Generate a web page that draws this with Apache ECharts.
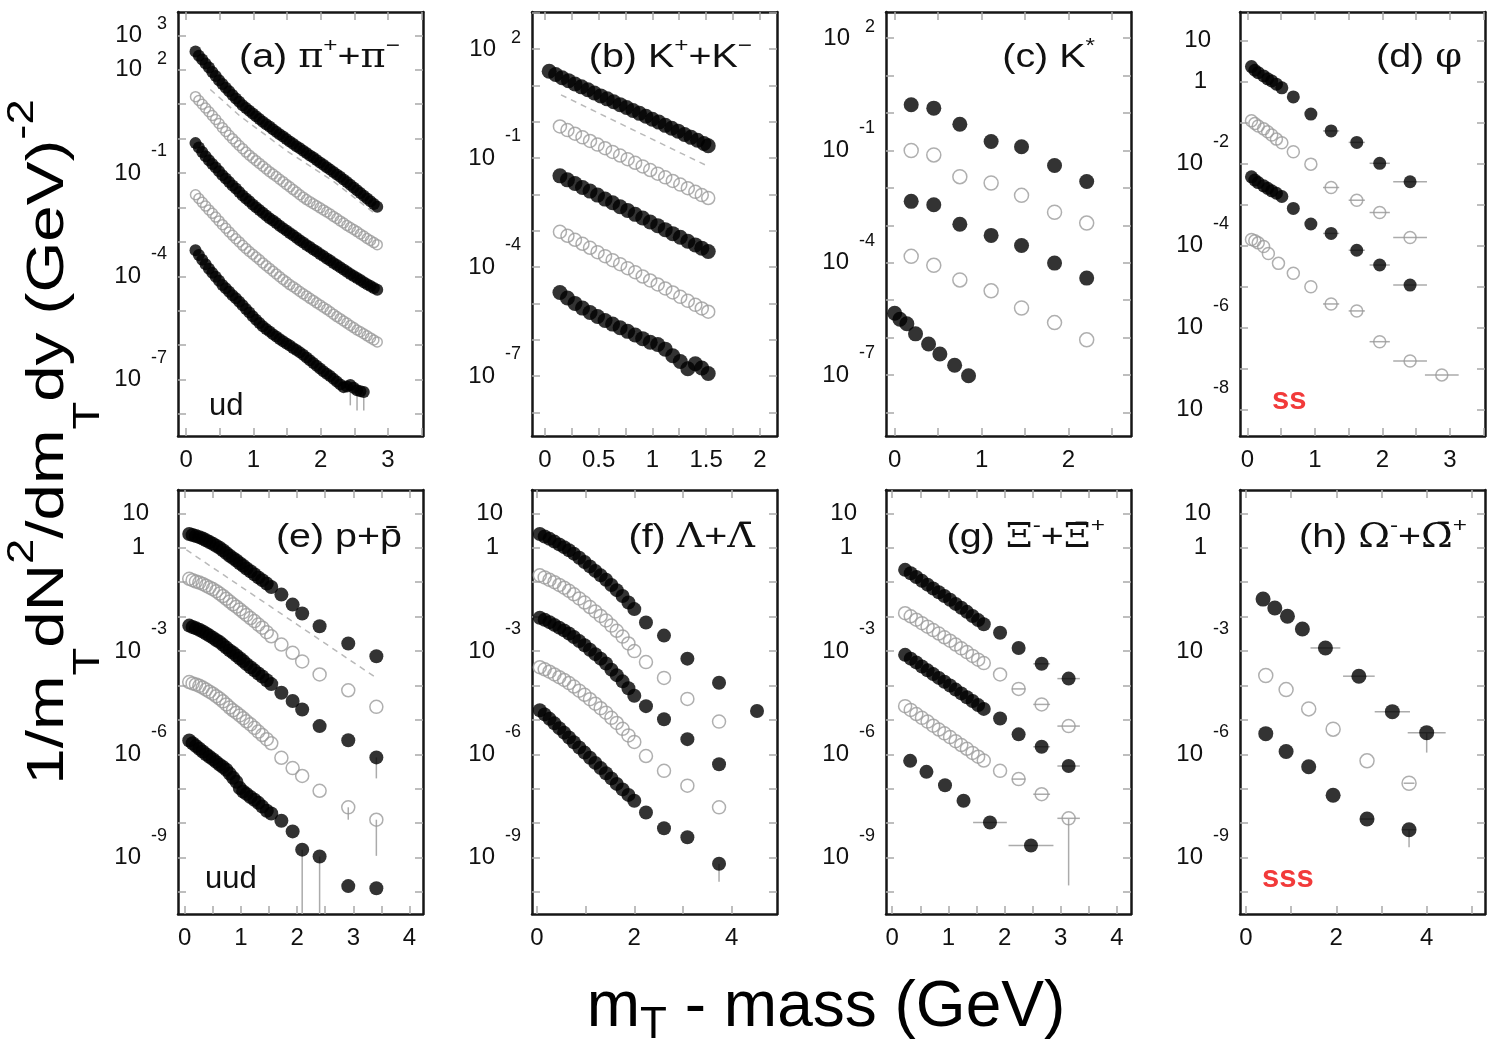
<!DOCTYPE html>
<html>
<head>
<meta charset="utf-8">
<script src="https://cdn.jsdelivr.net/npm/echarts@6/dist/echarts.min.js"></script>
<style>
  html, body { margin: 0; padding: 0; background: #ffffff; }
  #chart { width: 1491px; height: 1045px; }
</style>
</head>
<body>
<div id="chart"></div>
<script>
// Transverse-mass spectra, eight particle species, several centralities each.
// Every y value below is log10 of 1/mT d2N/dmT dy in (GeV)^-2; the y axes are
// value axes over that exponent and label their ticks as powers of ten.

const FONT = '"Liberation Sans", Arial, Helvetica, sans-serif';
const SERIF = '"DejaVu Serif", "Liberation Serif", "Times New Roman", serif';

// ---------- (a) pi+ + pi- ----------
const aX  = [0.14,0.19,0.24,0.29,0.34,0.39,0.44,0.49,0.54,0.59,0.64,0.69,0.74,0.79,0.84,0.89,0.94,0.99,1.04,1.09,1.14,1.19,1.24,1.29,1.34,1.39,1.44,1.49,1.54,1.59,1.64,1.69,1.74,1.79,1.84,1.89,1.94,1.99,2.04,2.09,2.14,2.19,2.24,2.29,2.34,2.39,2.44,2.49,2.54,2.59,2.64,2.69,2.74,2.79,2.84];
const a1  = [2.53,2.41,2.30,2.18,2.07,1.94,1.82,1.70,1.59,1.48,1.38,1.27,1.17,1.07,0.97,0.89,0.81,0.73,0.65,0.57,0.49,0.42,0.35,0.27,0.20,0.13,0.06,-0.01,-0.08,-0.15,-0.22,-0.28,-0.35,-0.42,-0.49,-0.55,-0.62,-0.69,-0.76,-0.83,-0.90,-0.97,-1.04,-1.11,-1.19,-1.26,-1.34,-1.42,-1.50,-1.58,-1.66,-1.74,-1.82,-1.90,-1.98];
const a2  = [1.22,1.11,1.00,0.89,0.78,0.67,0.56,0.44,0.32,0.21,0.10,0.00,-0.10,-0.20,-0.29,-0.39,-0.48,-0.56,-0.64,-0.72,-0.80,-0.88,-0.96,-1.03,-1.10,-1.18,-1.25,-1.33,-1.40,-1.48,-1.55,-1.63,-1.70,-1.77,-1.83,-1.89,-1.95,-2.01,-2.07,-2.13,-2.19,-2.26,-2.32,-2.39,-2.45,-2.52,-2.58,-2.64,-2.70,-2.77,-2.83,-2.90,-2.96,-3.02,-3.08];
const a3  = [-0.13,-0.26,-0.39,-0.51,-0.63,-0.74,-0.84,-0.95,-1.06,-1.16,-1.26,-1.36,-1.45,-1.55,-1.65,-1.74,-1.82,-1.91,-1.99,-2.07,-2.15,-2.23,-2.31,-2.38,-2.45,-2.53,-2.60,-2.67,-2.74,-2.81,-2.88,-2.95,-3.02,-3.09,-3.15,-3.22,-3.28,-3.35,-3.41,-3.48,-3.54,-3.61,-3.67,-3.74,-3.80,-3.87,-3.93,-3.99,-4.05,-4.11,-4.17,-4.23,-4.28,-4.34,-4.39];
const a4  = [-1.63,-1.74,-1.85,-1.96,-2.07,-2.17,-2.28,-2.39,-2.50,-2.60,-2.71,-2.81,-2.91,-3.00,-3.10,-3.19,-3.28,-3.36,-3.44,-3.52,-3.61,-3.69,-3.77,-3.85,-3.93,-4.01,-4.09,-4.16,-4.24,-4.30,-4.37,-4.44,-4.51,-4.57,-4.64,-4.70,-4.77,-4.83,-4.90,-4.96,-5.03,-5.10,-5.17,-5.23,-5.30,-5.36,-5.43,-5.49,-5.56,-5.61,-5.67,-5.73,-5.79,-5.85,-5.91];
const a5X = [0.14,0.19,0.24,0.29,0.34,0.39,0.44,0.49,0.54,0.59,0.64,0.69,0.74,0.79,0.84,0.89,0.94,0.99,1.04,1.09,1.14,1.19,1.24,1.29,1.34,1.39,1.44,1.49,1.54,1.59,1.64,1.69,1.74,1.79,1.84,1.89,1.94,1.99,2.04,2.09,2.14,2.19,2.24,2.29,2.34,2.39,2.44,2.49,2.54,2.59,2.64];
const a5  = [-3.24,-3.38,-3.52,-3.65,-3.78,-3.90,-4.01,-4.13,-4.25,-4.35,-4.45,-4.55,-4.64,-4.74,-4.84,-4.95,-5.05,-5.16,-5.26,-5.36,-5.45,-5.53,-5.60,-5.68,-5.75,-5.82,-5.89,-5.95,-6.01,-6.08,-6.14,-6.21,-6.28,-6.36,-6.44,-6.52,-6.60,-6.68,-6.76,-6.83,-6.90,-6.98,-7.06,-7.14,-7.22,-7.20,-7.16,-7.24,-7.31,-7.34,-7.36];
const aFitX = [0.36,0.80,1.50,2.19,2.78];
const aFit  = [1.43,0.66,-0.36,-1.24,-2.14];
// error bars: [x, y, x half-width, lower y end]
const aErr = [[2.44,-7.16,0,-7.75],[2.54,-7.31,0,-7.90],[2.64,-7.36,0,-7.90]];

// ---------- (b) K+ + K- ----------
const b1X = [0.04,0.10,0.16,0.22,0.28,0.34,0.40,0.46,0.52,0.58,0.64,0.70,0.76,0.82,0.88,0.94,1.00,1.06,1.12,1.18,1.24,1.30,1.36,1.42,1.48,1.52];
const b1  = [1.39,1.30,1.21,1.13,1.04,0.96,0.88,0.79,0.71,0.63,0.55,0.47,0.39,0.31,0.23,0.15,0.07,-0.01,-0.10,-0.18,-0.26,-0.35,-0.43,-0.51,-0.60,-0.66];
const bX  = [0.14,0.21,0.28,0.35,0.42,0.49,0.56,0.63,0.70,0.77,0.84,0.91,0.98,1.05,1.12,1.19,1.26,1.33,1.40,1.46,1.52];
const b2  = [-0.13,-0.23,-0.33,-0.43,-0.53,-0.63,-0.73,-0.83,-0.93,-1.03,-1.13,-1.23,-1.33,-1.43,-1.53,-1.63,-1.73,-1.83,-1.93,-2.02,-2.10];
const b3  = [-1.49,-1.60,-1.70,-1.81,-1.91,-2.02,-2.13,-2.23,-2.34,-2.44,-2.55,-2.65,-2.76,-2.86,-2.97,-3.08,-3.18,-3.29,-3.39,-3.48,-3.57];
const b4  = [-3.03,-3.14,-3.25,-3.36,-3.47,-3.59,-3.70,-3.81,-3.92,-4.03,-4.14,-4.26,-4.37,-4.48,-4.59,-4.70,-4.82,-4.93,-5.04,-5.14,-5.23];
const b5  = [-4.70,-4.85,-5.00,-5.13,-5.25,-5.36,-5.47,-5.57,-5.67,-5.77,-5.87,-5.97,-6.07,-6.13,-6.26,-6.44,-6.60,-6.80,-6.66,-6.78,-6.93];
const bFitX = [0.15,1.52];
const bFit  = [0.74,-1.23];
const bErr = [];

// ---------- (c) K* ----------
const cX  = [0.19,0.45,0.75,1.11,1.46,1.84,2.21];
const c1  = [0.22,0.13,-0.30,-0.76,-0.90,-1.40,-1.83];
const c2  = [-1.00,-1.12,-1.70,-1.87,-2.20,-2.65,-2.94];
const c3  = [-2.36,-2.45,-2.97,-3.27,-3.54,-4.01,-4.41];
const c4  = [-3.83,-4.07,-4.46,-4.75,-5.21,-5.60,-6.06];
const c5X = [0.00,0.06,0.14,0.24,0.39,0.52,0.69,0.85];
const c5  = [-5.35,-5.51,-5.63,-5.90,-6.17,-6.44,-6.74,-7.02];
const cErr = [];

// ---------- (d) phi ----------
const dX  = [0.06,0.11,0.16,0.24,0.30,0.36,0.43,0.51,0.68,0.94,1.24,1.62,1.96,2.41];
const d1  = [0.37,0.28,0.22,0.14,0.07,0.02,-0.06,-0.15,-0.37,-0.79,-1.20,-1.48,-1.99,-2.44];
const d2  = [-0.95,-1.02,-1.08,-1.15,-1.22,-1.30,-1.40,-1.49,-1.71,-2.01,-2.58,-2.89,-3.19,-3.80];
const d3  = [-2.32,-2.40,-2.46,-2.54,-2.60,-2.66,-2.72,-2.80,-3.09,-3.47,-3.70,-4.11,-4.47,-4.96];
const d4X = [0.06,0.11,0.16,0.24,0.31,0.46,0.68,0.94,1.24,1.62,1.96,2.41,2.88];
const d4  = [-3.85,-3.88,-3.93,-4.02,-4.19,-4.43,-4.67,-5.00,-5.42,-5.59,-6.34,-6.81,-7.15];
const dErr = [
  [1.24,-1.20,0.12,null],[1.62,-1.48,0.12,null],[1.96,-1.99,0.15,null],[2.41,-2.44,0.25,null],
  [1.24,-2.58,0.12,null],[1.62,-2.89,0.12,null],[1.96,-3.19,0.15,null],[2.41,-3.80,0.25,null],
  [1.24,-3.70,0.12,null],[1.62,-4.11,0.12,null],[1.96,-4.47,0.15,null],[2.41,-4.96,0.25,null],
  [1.24,-5.42,0.12,null],[1.62,-5.59,0.12,null],[1.96,-6.34,0.15,null],[2.41,-6.81,0.25,null],[2.88,-7.15,0.25,null]
];

// ---------- (e) p + pbar ----------
const eX  = [0.08,0.14,0.20,0.26,0.32,0.38,0.44,0.50,0.56,0.62,0.68,0.74,0.80,0.86,0.92,0.98,1.04,1.10,1.17,1.24,1.31,1.38,1.46,1.54,1.72,1.92,2.09,2.40,2.91,3.41];
const e1  = [0.40,0.37,0.34,0.31,0.27,0.22,0.17,0.12,0.06,0.00,-0.07,-0.15,-0.23,-0.30,-0.37,-0.45,-0.52,-0.60,-0.68,-0.77,-0.86,-0.94,-1.04,-1.14,-1.36,-1.65,-1.91,-2.28,-2.78,-3.15];
const e2  = [-0.90,-0.94,-0.98,-1.01,-1.05,-1.10,-1.15,-1.20,-1.26,-1.33,-1.40,-1.48,-1.56,-1.64,-1.71,-1.79,-1.87,-1.95,-2.04,-2.13,-2.23,-2.32,-2.45,-2.57,-2.81,-3.05,-3.30,-3.68,-4.14,-4.62];
const e3  = [-2.26,-2.30,-2.34,-2.38,-2.43,-2.49,-2.55,-2.61,-2.68,-2.74,-2.82,-2.90,-2.98,-3.05,-3.13,-3.21,-3.29,-3.38,-3.47,-3.56,-3.65,-3.74,-3.85,-3.96,-4.21,-4.45,-4.70,-5.18,-5.59,-6.09];
const e4  = [-3.90,-3.94,-3.97,-4.01,-4.06,-4.12,-4.18,-4.24,-4.31,-4.38,-4.46,-4.55,-4.64,-4.72,-4.79,-4.87,-4.95,-5.04,-5.13,-5.23,-5.34,-5.44,-5.56,-5.68,-6.10,-6.40,-6.63,-7.06,-7.54,-7.90];
const e5  = [-5.60,-5.68,-5.76,-5.84,-5.92,-6.00,-6.07,-6.14,-6.22,-6.30,-6.37,-6.45,-6.56,-6.68,-6.80,-6.98,-7.08,-7.15,-7.24,-7.32,-7.41,-7.52,-7.64,-7.72,-7.93,-8.24,-8.77,-8.97,-9.83,-9.89];
const eFitX = [0.03,3.41];
const eFit  = [-0.06,-3.78];
const eErr = [[2.09,-8.77,0,-10.7],[2.40,-8.97,0,-10.7],[2.91,-7.54,0,-7.90],[3.41,-7.90,0,-8.95],[3.41,-6.09,0,-6.70]];

// ---------- (f) Lambda + anti-Lambda ----------
const f1X = [0.06,0.16,0.26,0.36,0.46,0.56,0.66,0.76,0.87,0.98,1.09,1.20,1.31,1.42,1.53,1.64,1.76,1.88,2.00,2.24,2.61,3.09,3.74,4.52];
const f1  = [0.40,0.33,0.26,0.18,0.10,0.02,-0.07,-0.17,-0.29,-0.41,-0.54,-0.67,-0.80,-0.93,-1.08,-1.23,-1.40,-1.59,-1.78,-2.17,-2.55,-3.22,-3.92,-4.74];
const fX  = [0.06,0.16,0.26,0.36,0.46,0.56,0.66,0.76,0.87,0.98,1.09,1.20,1.31,1.42,1.53,1.64,1.76,1.88,2.00,2.24,2.61,3.09,3.74];
const f2  = [-0.80,-0.86,-0.93,-1.00,-1.08,-1.16,-1.25,-1.35,-1.47,-1.59,-1.72,-1.85,-1.98,-2.11,-2.26,-2.41,-2.58,-2.78,-3.00,-3.32,-3.78,-4.39,-5.05];
const f3  = [-2.03,-2.09,-2.16,-2.24,-2.32,-2.40,-2.49,-2.59,-2.71,-2.83,-2.96,-3.09,-3.22,-3.36,-3.54,-3.70,-3.88,-4.08,-4.30,-4.60,-4.98,-5.56,-6.29];
const f4  = [-3.47,-3.53,-3.60,-3.68,-3.76,-3.84,-3.93,-4.03,-4.15,-4.27,-4.40,-4.53,-4.66,-4.79,-4.94,-5.09,-5.26,-5.45,-5.64,-6.05,-6.48,-6.91,-7.54];
const f5  = [-4.72,-4.84,-4.97,-5.10,-5.24,-5.37,-5.51,-5.65,-5.80,-5.95,-6.10,-6.25,-6.40,-6.55,-6.70,-6.86,-7.02,-7.18,-7.35,-7.69,-8.15,-8.41,-9.18];
const fErr = [[3.74,-9.18,0,-9.70]];

// ---------- (g) Xi- + anti-Xi+ ----------
const gX  = [0.23,0.33,0.43,0.53,0.63,0.73,0.83,0.93,1.03,1.13,1.23,1.33,1.43,1.53,1.63,1.92,2.25,2.66,3.14];
const g1  = [-0.64,-0.74,-0.85,-0.96,-1.07,-1.18,-1.29,-1.40,-1.51,-1.63,-1.74,-1.86,-1.98,-2.10,-2.22,-2.47,-2.91,-3.37,-3.80];
const g2  = [-1.90,-1.99,-2.09,-2.19,-2.29,-2.39,-2.49,-2.60,-2.70,-2.81,-2.92,-3.03,-3.14,-3.25,-3.35,-3.68,-4.10,-4.55,-5.18];
const g3  = [-3.11,-3.22,-3.33,-3.45,-3.56,-3.67,-3.78,-3.89,-4.00,-4.12,-4.23,-4.34,-4.45,-4.57,-4.68,-4.96,-5.42,-5.78,-6.34];
const g4  = [-4.60,-4.71,-4.83,-4.94,-5.05,-5.17,-5.28,-5.39,-5.50,-5.62,-5.73,-5.84,-5.96,-6.07,-6.18,-6.48,-6.72,-7.16,-7.86];
const g5X = [0.32,0.61,0.94,1.27,1.74,2.47];
const g5  = [-6.19,-6.51,-6.90,-7.35,-7.98,-8.65];
const gErr = [
  [1.74,-7.98,0.30,null],[2.47,-8.65,0.40,null],
  [2.66,-3.37,0.15,null],[3.14,-3.80,0.20,null],
  [2.25,-4.10,0.12,null],[2.66,-4.55,0.15,null],[3.14,-5.18,0.20,null],
  [2.66,-5.78,0.15,null],[3.14,-6.34,0.20,null],
  [2.25,-6.72,0.12,null],[2.66,-7.16,0.15,null],[3.14,-7.86,0.20,-9.81]
];

// ---------- (h) Omega- + anti-Omega+ ----------
const h1X = [0.38,0.64,0.92,1.25,1.76,2.50,3.24,4.00];
const h1  = [-1.49,-1.75,-1.99,-2.36,-2.91,-3.73,-4.76,-5.37];
const hX  = [0.44,0.89,1.39,1.93,2.68,3.61];
const h2  = [-3.71,-4.12,-4.68,-5.27,-6.19,-6.84];
const h3  = [-5.40,-5.92,-6.36,-7.19,-7.88,-8.19];
const hErr = [
  [1.76,-2.91,0.33,null],[2.50,-3.73,0.35,null],[3.24,-4.76,0.39,null],[4.00,-5.37,0.42,-5.95],
  [3.61,-6.84,0.12,null],[2.68,-7.88,0.15,null],[3.61,-8.19,0.15,-8.70]
];

// ---------- tick labels (y: decade exponents; the closely spaced pair sits mid-list) ----------
const aXLabels = [0,1,2,3],       aYLabels = [-1,3,2,-4,-7];
const bXLabels = [0,0.5,1,1.5,2], bYLabels = [2,-1,-4,-7];
const cXLabels = [0,1,2],         cYLabels = [2,-1,-4,-7];
const dXLabels = [0,1,2,3],       dYLabels = [-2,1,0,-4,-6,-8];
const eXLabels = [0,1,2,3,4],     eYLabels = [-3,1,0,-6,-9];
const fXLabels = [0,2,4],         fYLabels = [-3,1,0,-6,-9];
const gXLabels = [0,1,2,3,4],     gYLabels = [-3,1,0,-6,-9];
const hXLabels = [0,2,4],         hYLabels = [-3,1,0,-6,-9];

// ---------- panel layout ----------
const PLOT_W = 245, PLOT_H = 424;
const LEFTS = [178, 532, 886, 1240];
const TOPS = [12, 490];

const panels = [
  { x: [-0.12, 3.52], y: [-8.64, 3.68], xStep: 0.5,  xLabels: aXLabels, yLabels: aYLabels, size: 12, openSize: 10,
    filled: [[aX, a1], [aX, a3], [a5X, a5]], open: [[aX, a2], [aX, a4]], fit: [aFitX, aFit], err: aErr },
  { x: [-0.12, 2.16], y: [-8.65, 3.02], xStep: 0.25, xLabels: bXLabels, yLabels: bYLabels, size: 15, openSize: 13,
    filled: [[b1X, b1], [bX, b3], [bX, b5]], open: [[bX, b2], [bX, b4]], fit: [bFitX, bFit], err: bErr },
  { x: [-0.10, 2.72], y: [-8.63, 2.70], xStep: 0.5,  xLabels: cXLabels, yLabels: cYLabels, size: 15, openSize: 14,
    filled: [[cX, c1], [cX, c3], [c5X, c5]], open: [[cX, c2], [cX, c4]], fit: null, err: cErr },
  { x: [-0.11, 3.52], y: [-8.64, 1.70], xStep: 0.5,  xLabels: dXLabels, yLabels: dYLabels, size: 13, openSize: 12,
    filled: [[dX, d1], [dX, d3]], open: [[dX, d2], [d4X, d4]], fit: null, err: dErr },
  { x: [-0.12, 4.24], y: [-10.64, 1.68], xStep: 0.5, xLabels: eXLabels, yLabels: eYLabels, size: 14, openSize: 13,
    filled: [[eX, e1], [eX, e3], [eX, e5]], open: [[eX, e2], [eX, e4]], fit: [eFitX, eFit], err: eErr },
  { x: [-0.10, 4.93], y: [-10.64, 1.68], xStep: 1,   xLabels: fXLabels, yLabels: fYLabels, size: 14, openSize: 13,
    filled: [[f1X, f1], [fX, f3], [fX, f5]], open: [[fX, f2], [fX, f4]], fit: null, err: fErr },
  { x: [-0.11, 4.25], y: [-10.64, 1.68], xStep: 0.5, xLabels: gXLabels, yLabels: gYLabels, size: 14, openSize: 13,
    filled: [[gX, g1], [gX, g3], [g5X, g5]], open: [[gX, g2], [gX, g4]], fit: null, err: gErr },
  { x: [-0.13, 5.29], y: [-10.64, 1.68], xStep: 1,   xLabels: hXLabels, yLabels: hYLabels, size: 15, openSize: 14,
    filled: [[h1X, h1], [hX, h3]], open: [[hX, h2]], fit: null, err: hErr }
];

// panel captions: rich text, right edge and vertical centre
const captions = [
  { text: '{t|(a) }{g|π}{s|+}{t|+}{g|π}{s|−}', x: 400, y: 58 },
  { text: '{t|(b) K}{s|+}{t|+K}{s|−}', x: 752, y: 58 },
  { text: '{t|(c) K}{s|*}', x: 1095, y: 58 },
  { text: '{t|(d) }{g|φ}', x: 1462, y: 58 },
  { text: '{t|(e) p+p\u0304}', x: 402, y: 538 },
  { text: '{t|(f) }{g|Λ}{t|+}{g|Λ\u0304}', x: 755, y: 538 },
  { text: '{t|(g) }{g|Ξ}{s|-}{t|+}{g|Ξ\u0304}{s|+}', x: 1105, y: 538 },
  { text: '{t|(h) }{g|Ω}{s|-}{t|+}{g|Ω\u0304}{s|+}', x: 1467, y: 538 }
];
const quarkTags = [
  { text: 'ud',  x: 209,  y: 406, color: '#111111' },
  { text: 'ss',  x: 1272, y: 400, color: '#f23a3a' },
  { text: 'uud', x: 205,  y: 879, color: '#111111' },
  { text: 'sss', x: 1262, y: 878, color: '#f23a3a' }
];

// ---------- option building ----------
function decadeTicks(lo, hi) {
  const out = [];
  for (let n = Math.ceil(lo); n <= Math.floor(hi); n++) out.push(n);
  return out;
}
function linearTicks(hi, step) {
  const out = [];
  for (let k = 0; k * step <= hi + 1e-9; k++) out.push(+(k * step).toFixed(3));
  return out;
}
function pairs(xs, ys) { return xs.map((x, i) => [x, ys[i]]); }

function powerLabel(v) {
  const n = Math.round(v);
  if (n === 0) return '{one|1}';
  if (n === 1) return '{ten|10}';
  return n < 0 ? '{b|10}{en|-' + (-n) + '}' : '{b|10}{ep|' + n + '}';
}
const powerRich = {
  b:   { fontSize: 24, lineHeight: 64, fontFamily: FONT, color: '#111' },
  ten: { fontSize: 24, lineHeight: 64, fontFamily: FONT, color: '#111', padding: [0, 18, 0, 0] },
  one: { fontSize: 24, lineHeight: 64, fontFamily: FONT, color: '#111', padding: [0, 22, 0, 0] },
  en:  { fontSize: 18, lineHeight: 20, fontFamily: FONT, color: '#111', verticalAlign: 'top', padding: [1, 0, 0, 10] },
  ep:  { fontSize: 18, lineHeight: 20, fontFamily: FONT, color: '#111', verticalAlign: 'top', padding: [12, 0, 0, 15] }
};

const FRAME = { color: '#161616', width: 2.5 };
const TICK = { color: '#a9a9a9', width: 1.5 };

const grids = [], xAxes = [], yAxes = [], series = [];

panels.forEach((p, i) => {
  grids.push({ left: LEFTS[i % 4], top: TOPS[Math.floor(i / 4)], width: PLOT_W, height: PLOT_H });
  const xt = linearTicks(p.x[1], p.xStep);
  const yt = decadeTicks(p.y[0], p.y[1]);
  ['bottom', 'top'].forEach(pos => {
    xAxes.push({
      gridIndex: i, type: 'value', position: pos, min: p.x[0], max: p.x[1],
      splitLine: { show: false },
      axisLine: { show: true, onZero: false, lineStyle: { ...FRAME } },
      axisTick: { show: true, inside: true, length: 8, customValues: xt, lineStyle: { ...TICK } },
      axisLabel: pos === 'bottom'
        ? { show: true, customValues: p.xLabels, margin: 12, fontSize: 24, fontFamily: FONT, color: '#111',
            showMinLabel: true, showMaxLabel: true, formatter: v => String(v) }
        : { show: false }
    });
  });
  ['left', 'right'].forEach(pos => {
    yAxes.push({
      gridIndex: i, type: 'value', position: pos, min: p.y[0], max: p.y[1],
      splitLine: { show: false },
      axisLine: { show: true, onZero: false, lineStyle: { ...FRAME } },
      axisTick: { show: true, inside: true, length: 8, customValues: yt, lineStyle: { ...TICK } },
      axisLabel: pos === 'left'
        ? { show: true, customValues: p.yLabels, margin: 11, showMinLabel: true, showMaxLabel: true,
            hideOverlap: false, formatter: powerLabel, rich: powerRich }
        : { show: false }
    });
  });
  const ax = { xAxisIndex: 2 * i, yAxisIndex: 2 * i };
  if (p.err.length) {
    series.push({
      type: 'custom', ...ax, clip: true, z: 1, silent: true, data: p.err,
      encode: { x: 0, y: 1 },
      renderItem(params, api) {
        const x = api.value(0), y = api.value(1), dx = api.value(2), yl = api.value(3);
        const c = api.coord([x, y]);
        const style = { stroke: '#ababab', lineWidth: 1.5 };
        const children = [];
        if (dx > 0) {
          const l = api.coord([x - dx, y]), r = api.coord([x + dx, y]);
          children.push({ type: 'line', shape: { x1: l[0], y1: c[1], x2: r[0], y2: c[1] }, style });
        }
        if (yl !== null && !isNaN(yl)) {
          const b = api.coord([x, yl]);
          children.push({ type: 'line', shape: { x1: c[0], y1: c[1], x2: c[0], y2: b[1] }, style });
        }
        return { type: 'group', children };
      }
    });
  }
  if (p.fit) {
    series.push({
      type: 'line', ...ax, data: pairs(p.fit[0], p.fit[1]), symbol: 'none', silent: true, z: 2,
      lineStyle: { color: '#b9b9b9', width: 1.5, type: [6, 5] }
    });
  }
  p.open.forEach(([xs, ys]) => {
    series.push({
      type: 'scatter', ...ax, data: pairs(xs, ys), symbol: 'circle', symbolSize: p.openSize, silent: true, z: 3,
      itemStyle: { color: 'rgba(255,255,255,0)', borderColor: '#9b9b9b', borderWidth: 1.5 }
    });
  });
  p.filled.forEach(([xs, ys]) => {
    series.push({
      type: 'scatter', ...ax, data: pairs(xs, ys), symbol: 'circle', symbolSize: p.size, silent: true, z: 4,
      itemStyle: { color: '#000000' }
    });
  });
});

const captionRich = {
  t: { fontSize: 34, lineHeight: 44, fontFamily: FONT, fill: '#111' },
  g: { fontSize: 33, lineHeight: 44, fontFamily: SERIF, fill: '#111' },
  s: { fontSize: 21, lineHeight: 21, fontFamily: FONT, fill: '#111', verticalAlign: 'top' }
};

const graphics = [];
captions.forEach(c => graphics.push({
  type: 'text', x: c.x, y: c.y, scaleX: 1.16, silent: true,
  style: { text: c.text, rich: captionRich, align: 'right', verticalAlign: 'middle' }
}));
quarkTags.forEach(q => graphics.push({
  type: 'text', x: q.x, y: q.y, silent: true,
  style: { text: q.text, fill: q.color, fontSize: 31, fontFamily: FONT,
           fontWeight: q.color === '#111111' ? 'normal' : 'bold', align: 'left', verticalAlign: 'middle' }
}));
// y-axis title, reading bottom to top
graphics.push({
  type: 'text', x: 49, y: 442, rotation: Math.PI / 2, scaleX: 1.26, silent: true,
  style: {
    text: '{t|1/m}{sub|T}{t|dN}{sup|2}{t|/dm}{sub|T}{t|dy (GeV)}{sup|-2}',
    align: 'center', verticalAlign: 'middle',
    rich: {
      t:   { fontSize: 52, lineHeight: 116, fontFamily: FONT, fill: '#000' },
      sub: { fontSize: 36, lineHeight: 36, fontFamily: FONT, fill: '#000', verticalAlign: 'bottom' },
      sup: { fontSize: 36, lineHeight: 36, fontFamily: FONT, fill: '#000', verticalAlign: 'top', padding: [14, 0, 0, 0] }
    }
  }
});
// x-axis title
graphics.push({
  type: 'text', x: 826, y: 1008, silent: true,
  style: {
    text: '{t|m}{sub|T}{t| - mass (GeV)}',
    align: 'center', verticalAlign: 'middle',
    rich: {
      t:   { fontSize: 64, lineHeight: 80, fontFamily: FONT, fill: '#000' },
      sub: { fontSize: 44, lineHeight: 44, fontFamily: FONT, fill: '#000', verticalAlign: 'bottom' }
    }
  }
});

const chart = echarts.init(document.getElementById('chart'), null, { renderer: 'canvas' });
chart.setOption({
  animation: false,
  backgroundColor: '#ffffff',
  grid: grids,
  xAxis: xAxes,
  yAxis: yAxes,
  series: series,
  graphic: graphics
});
</script>
</body>
</html>
